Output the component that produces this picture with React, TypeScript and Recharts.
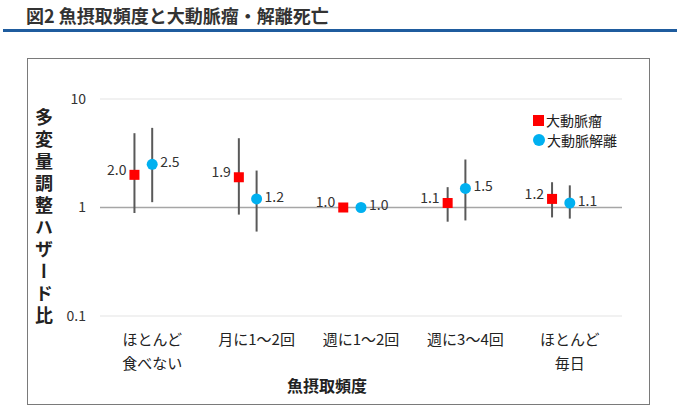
import { ScatterChart, Scatter, XAxis, YAxis, CartesianGrid, ReferenceLine, ErrorBar } from 'recharts'

const categories = [['ほとんど', '食べない'], ['月に1～2回'], ['週に1～2回'], ['週に3～4回'], ['ほとんど', '毎日']]

// 大動脈瘤
const aneurysmHR = [2.0, 1.9, 1.0, 1.1, 1.2]
const aneurysmLow = [0.89, 0.86, 1.0, 0.74, 0.81]
const aneurysmHigh = [4.84, 4.35, 1.0, 1.54, 1.71]

// 大動脈解離
const dissectionHR = [2.5, 1.2, 1.0, 1.5, 1.1]
const dissectionLow = [1.12, 0.6, 1.0, 0.76, 0.79]
const dissectionHigh = [5.42, 2.19, 1.0, 2.77, 1.6]

const yTicks = [0.1, 1, 10]

const FONT = '"Noto Sans CJK JP", "Noto Sans", sans-serif'
const RED = '#ff0000'
const BLUE = '#00b0f0'

const build = (hr: number[], lo: number[], hi: number[], shift: number) =>
  hr.map((v, i) => ({ x: i + 0.5 + shift, hr: v, err: [v - lo[i], hi[i] - v] }))

const aneurysmData = build(aneurysmHR, aneurysmLow, aneurysmHigh, -0.17)
const dissectionData = build(dissectionHR, dissectionLow, dissectionHigh, 0)

const RedSquare = (props: any) => {
  const { cx, cy, payload } = props
  return (
    <g>
      <rect x={cx - 5} y={cy - 5} width={10} height={10} fill={RED} />
      <text x={cx - 8} y={cy - 4} textAnchor="end" dominantBaseline="middle" fontSize={14} fill="#333" fontFamily={FONT}>
        {payload.hr.toFixed(1)}
      </text>
    </g>
  )
}

const BlueDot = (props: any) => {
  const { cx, cy, payload } = props
  return (
    <g>
      <circle cx={cx} cy={cy} r={5.5} fill={BLUE} />
      <text x={cx + 8} y={cy - 1} textAnchor="start" dominantBaseline="middle" fontSize={14} fill="#333" fontFamily={FONT}>
        {payload.hr.toFixed(1)}
      </text>
    </g>
  )
}

const CategoryTick = (props: any) => {
  const { x, y, index } = props
  const lines = categories[index] || []
  return (
    <text x={x} textAnchor="middle" fontSize={15} fill="#222" fontFamily={FONT}>
      {lines.map((l, i) => (
        <tspan key={i} x={x} y={y + 27 + i * 24}>
          {l}
        </tspan>
      ))}
    </text>
  )
}

export default function App() {
  return (
    <div style={{ position: 'absolute', left: 0, top: 0, width: 680, height: 414, background: '#fff', fontFamily: FONT }}>
      <div style={{ position: 'absolute', left: 26, top: 3, fontSize: 18, fontWeight: 'bold', color: '#333', lineHeight: '24px', whiteSpace: 'nowrap' }}>
        図2 魚摂取頻度と大動脈瘤・解離死亡
      </div>
      <div style={{ position: 'absolute', left: 3, top: 29, width: 674, height: 3, background: '#1f5c9e' }} />
      <div style={{ position: 'absolute', left: 27, top: 58, width: 621, height: 345, border: '1px solid #7a7a7a' }} />
      <div
        style={{
          position: 'absolute',
          left: 34,
          top: 108,
          writingMode: 'vertical-rl',
          fontSize: 18,
          fontWeight: 'bold',
          color: '#222',
          letterSpacing: 4,
          lineHeight: '20px',
        }}
      >
        多変量調整ハザード比
      </div>
      <div style={{ position: 'absolute', left: 287, top: 374, fontSize: 16, fontWeight: 'bold', color: '#222', lineHeight: '22px', whiteSpace: 'nowrap' }}>
        魚摂取頻度
      </div>
      <div style={{ position: 'absolute', left: 0, top: 0 }}>
        <ScatterChart width={680} height={414} margin={{ top: 99, right: 58, bottom: 38, left: 70 }}>
          <CartesianGrid horizontal vertical={false} stroke="#e3e3e3" />
          <XAxis
            type="number"
            dataKey="x"
            domain={[0, 5]}
            ticks={[0.5, 1.5, 2.5, 3.5, 4.5]}
            tick={<CategoryTick />}
            axisLine={false}
            tickLine={false}
            tickSize={0}
            height={60}
            interval={0}
          />
          <YAxis
            type="number"
            dataKey="hr"
            scale="log"
            domain={[0.1, 10]}
            ticks={yTicks}
            allowDataOverflow
            axisLine={false}
            tickLine={false}
            tickSize={0}
            tickMargin={14}
            width={30}
            tick={{ fontSize: 14, fill: '#333', fontFamily: FONT }}
            tickFormatter={(v: number) => String(v)}
          />
          <ReferenceLine y={1} stroke="#a6a6a6" strokeWidth={1.5} />
          <Scatter name="大動脈瘤" data={aneurysmData} shape={<RedSquare />} isAnimationActive={false}>
            <ErrorBar dataKey="err" direction="y" width={0} stroke="#595959" strokeWidth={2} />
          </Scatter>
          <Scatter name="大動脈解離" data={dissectionData} shape={<BlueDot />} isAnimationActive={false}>
            <ErrorBar dataKey="err" direction="y" width={0} stroke="#595959" strokeWidth={2} />
          </Scatter>
        </ScatterChart>
      </div>
      <div style={{ position: 'absolute', left: 533, top: 110, fontSize: 14, color: '#222', lineHeight: '20px' }}>
        <div style={{ display: 'flex', alignItems: 'center', height: 20 }}>
          <span style={{ width: 11, height: 11, background: RED, marginRight: 2, display: 'inline-block' }} />
          大動脈瘤
        </div>
        <div style={{ display: 'flex', alignItems: 'center', height: 20 }}>
          <span style={{ width: 12, height: 12, borderRadius: 6, background: BLUE, marginRight: 2, display: 'inline-block' }} />
          大動脈解離
        </div>
      </div>
    </div>
  )
}
